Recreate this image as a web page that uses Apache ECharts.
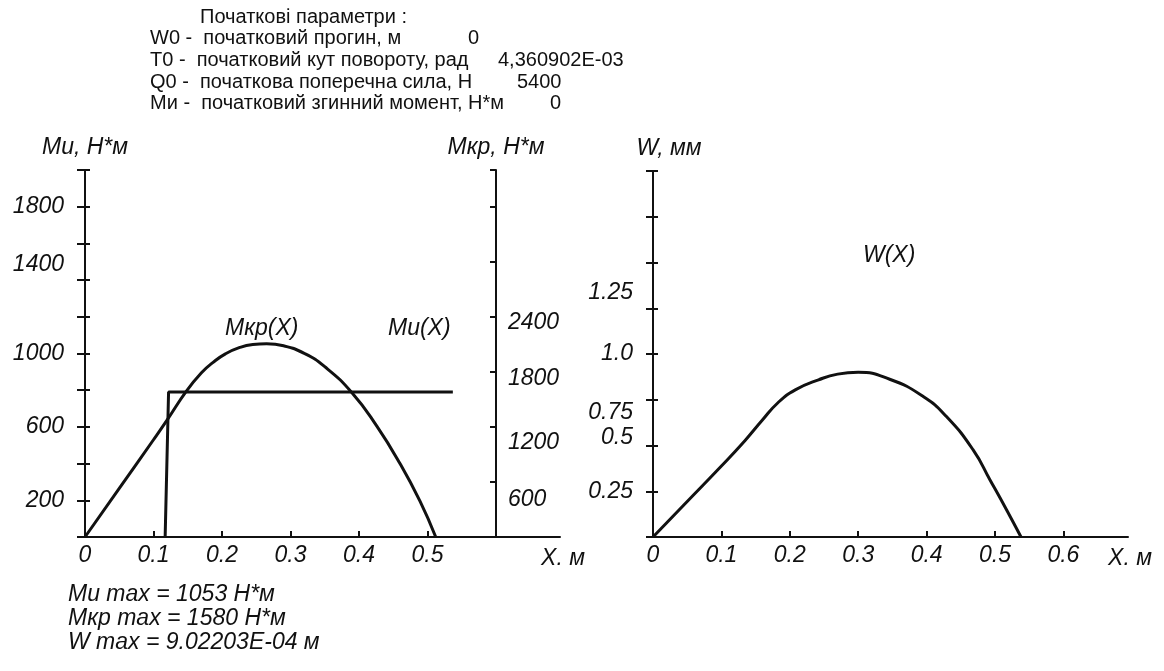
<!DOCTYPE html>
<html>
<head>
  <meta charset="utf-8">
  <script src="https://cdn.jsdelivr.net/npm/echarts@6/dist/echarts.min.js"></script>
  <style>html,body{margin:0;padding:0;background:#fff}</style>
</head>
<body>
<div id="main" style="width: 1164px; height: 671px"></div>
<script>
  // bending moment Mu(x), N*m (left axis)
  const muX = [0, 0.05, 0.1, 0.12, 0.148, 0.17, 0.187, 0.205, 0.226, 0.245, 0.265, 0.29, 0.32, 0.35, 0.39, 0.426, 0.46, 0.489, 0.512];
  const muY = [0, 265, 530, 638, 795, 895, 952, 998, 1033, 1049, 1053, 1042, 1001, 928, 785, 604, 399, 195, 0];
  // torque Mkp(x), N*m (right axis)
  const mkpX = [0.117, 0.122, 0.537];
  const mkpY = [0, 1580, 1580];
  // deflection W(x), mm
  const wX = [0, 0.05, 0.1, 0.134, 0.159, 0.183, 0.208, 0.242, 0.27, 0.3, 0.346, 0.395, 0.429, 0.468, 0.4927, 0.517, 0.538];
  const wY = [0, 0.194, 0.388, 0.525, 0.635, 0.735, 0.804, 0.859, 0.89, 0.9, 0.862, 0.768, 0.658, 0.476, 0.312, 0.148, 0];

  const xTicks = [0.1, 0.2, 0.3, 0.4, 0.5];
  const xLabelsLeft = [0, 0.1, 0.2, 0.3, 0.4, 0.5];
  const xTicksRight = [0.1, 0.2, 0.3, 0.4, 0.5, 0.6];
  const xLabelsRight = [0, 0.1, 0.2, 0.3, 0.4, 0.5, 0.6];
  const muLabels = [200, 600, 1000, 1400, 1800];
  const mkpLabels = [600, 1200, 1800, 2400];
  const wLabels = [0.25, 0.5, 0.75, 1.0, 1.25];

  // labels in the source sit a little off their ticks (px, + is down)
  const muShift = { 1400: -15 };
  const mkpShift = { 600: 18, 1200: 16, 1800: 7, 2400: 6 };
  const wShift = { 0.5: -8, 0.75: 13, 1.25: -16 };

  const header = [
    ['Початкові параметри :', 200, ''],
    ['W0 -  початковий прогин, м', 150, '0', 468],
    ['T0 -  початковий кут повороту, рад', 150, '4,360902E-03', 498],
    ['Q0 -  початкова поперечна сила, Н', 150, '5400', 517],
    ['Ми -  початковий згинний момент, Н*м', 150, '0', 550]
  ];
  const summary = ['Ми max = 1053 Н*м', 'Мкр max = 1580 Н*м', 'W max = 9.02203E-04 м'];

  const ink = '#111';
  const font = '"Liberation Sans", Arial, sans-serif';
  const fs = 23;
  const lab = { fontFamily: font, fontStyle: 'italic', fontSize: fs, color: ink };
  const zip = (xs, ys) => xs.map((x, i) => [x, ys[i]]);

  // build rich styles that nudge a label up or down
  function shifted(shifts) {
    const rich = {};
    Object.keys(shifts).forEach((k, i) => {
      const d = shifts[k];
      rich['s' + i] = Object.assign({}, lab, { padding: d > 0 ? [2 * d, 0, 0, 0] : [0, 0, -2 * d, 0] });
    });
    return rich;
  }
  function labelFmt(list, shifts, fmt) {
    const keys = Object.keys(shifts).map(Number);
    return v => {
      if (!list.includes(v)) return '';
      const txt = fmt ? fmt(v) : String(v);
      const i = keys.indexOf(v);
      return i >= 0 ? '{s' + i + '|' + txt + '}' : txt;
    };
  }

  const graphic = [];
  header.forEach((h, i) => {
    const y = 18 + i * 21.7;
    graphic.push({ type: 'text', left: h[1], top: y - 11, style: { text: h[0], font: '20px ' + font, fill: ink } });
    if (h[2]) graphic.push({ type: 'text', left: h[3], top: y - 11, style: { text: h[2], font: '20px ' + font, fill: ink } });
  });
  summary.forEach((s, i) => {
    graphic.push({ type: 'text', left: 68, top: 583 + i * 24, style: { text: s, font: 'italic ' + fs + 'px ' + font, fill: ink } });
  });
  graphic.push({ type: 'text', left: 225, top: 317, style: { text: 'Мкр(X)', font: 'italic ' + fs + 'px ' + font, fill: ink } });
  graphic.push({ type: 'text', left: 388, top: 317, style: { text: 'Ми(X)', font: 'italic ' + fs + 'px ' + font, fill: ink } });
  graphic.push({ type: 'text', left: 863, top: 244, style: { text: 'W(X)', font: 'italic ' + fs + 'px ' + font, fill: ink } });

  const line = { lineStyle: { color: ink, width: 2 } };
  const myChart = echarts.init(document.getElementById('main'));
  myChart.setOption({
    animation: false,
    graphic: graphic,
    grid: [
      { left: 85, top: 170, width: 475, height: 367 },
      { left: 85, top: 170, width: 411, height: 367 },
      { left: 653, top: 171, width: 475, height: 366 }
    ],
    xAxis: [
      {
        gridIndex: 0, type: 'value', min: 0, max: 0.6934,
        name: 'X. м', nameLocation: 'end', nameGap: 3,
        nameTextStyle: Object.assign({}, lab, { align: 'center', verticalAlign: 'top', padding: [10, 0, 0, 0] }),
        axisLine: Object.assign({ onZero: false }, line),
        axisTick: { inside: true, length: 6, lineStyle: { color: ink, width: 2 }, customValues: xTicks },
        axisLabel: Object.assign({}, lab, { margin: 7, customValues: xLabelsLeft, formatter: v => String(+v.toFixed(1)) }),
        splitLine: { show: false }
      },
      {
        gridIndex: 1, type: 'value', min: 0, max: 0.6, show: false
      },
      {
        gridIndex: 2, type: 'value', min: 0, max: 0.6944,
        name: 'X. м', nameLocation: 'end', nameGap: 2,
        nameTextStyle: Object.assign({}, lab, { align: 'center', verticalAlign: 'top', padding: [10, 0, 0, 0] }),
        axisLine: Object.assign({ onZero: false }, line),
        axisTick: { inside: true, length: 6, lineStyle: { color: ink, width: 2 }, customValues: xTicksRight },
        axisLabel: Object.assign({}, lab, { margin: 7, customValues: xLabelsRight, formatter: v => String(+v.toFixed(1)) }),
        splitLine: { show: false }
      }
    ],
    yAxis: [
      {
        gridIndex: 0, type: 'value', min: 0, max: 2000, interval: 200, position: 'left',
        name: 'Ми, Н*м', nameLocation: 'end', nameGap: 11,
        nameTextStyle: Object.assign({}, lab, { align: 'center', verticalAlign: 'bottom' }),
        axisLine: Object.assign({ show: true, onZero: false }, line),
        axisTick: { show: true, length: 8, lineStyle: { color: ink, width: 2 } },
        axisLabel: Object.assign({}, lab, { margin: 21, rich: shifted(muShift), formatter: labelFmt(muLabels, muShift) }),
        splitLine: { show: false }
      },
      {
        gridIndex: 0, type: 'value', min: 0, max: 2000, interval: 200, position: 'left',
        axisLine: { show: false },
        axisTick: { show: true, inside: true, length: 5, lineStyle: { color: ink, width: 2 } },
        axisLabel: { show: false }, splitLine: { show: false }
      },
      {
        gridIndex: 1, type: 'value', min: 0, max: 4000, interval: 600, position: 'right',
        name: 'Мкр, Н*м', nameLocation: 'end', nameGap: 11,
        nameTextStyle: Object.assign({}, lab, { align: 'center', verticalAlign: 'bottom' }),
        axisLine: Object.assign({ show: true, onZero: false }, line),
        axisTick: { show: true, inside: true, length: 6, lineStyle: { color: ink, width: 2 } },
        axisLabel: Object.assign({}, lab, { margin: 12, rich: shifted(mkpShift), formatter: labelFmt(mkpLabels, mkpShift) }),
        splitLine: { show: false }
      },
      {
        gridIndex: 2, type: 'value', min: 0, max: 2, interval: 0.25, position: 'left',
        name: 'W, мм', nameLocation: 'end', nameGap: 11,
        nameTextStyle: Object.assign({}, lab, { align: 'center', verticalAlign: 'bottom', padding: [0, 0, 0, 32] }),
        axisLine: Object.assign({ show: true, onZero: false }, line),
        axisTick: { show: true, length: 7, lineStyle: { color: ink, width: 2 } },
        axisLabel: Object.assign({}, lab, { margin: 20, rich: shifted(wShift), formatter: labelFmt(wLabels, wShift, v => v === 1 ? '1.0' : String(v)) }),
        splitLine: { show: false }
      },
      {
        gridIndex: 2, type: 'value', min: 0, max: 2, interval: 0.25, position: 'left',
        axisLine: { show: false },
        axisTick: { show: true, inside: true, length: 5, lineStyle: { color: ink, width: 2 } },
        axisLabel: { show: false }, splitLine: { show: false }
      }
    ],
    series: [
      {
        name: 'Ми(X)', type: 'line', xAxisIndex: 0, yAxisIndex: 0,
        data: zip(muX, muY), smooth: 0.5, showSymbol: false,
        lineStyle: { color: ink, width: 3 }
      },
      {
        name: 'Мкр(X)', type: 'line', xAxisIndex: 1, yAxisIndex: 2,
        data: zip(mkpX, mkpY), showSymbol: false,
        lineStyle: { color: ink, width: 3 }
      },
      {
        name: 'W(X)', type: 'line', xAxisIndex: 2, yAxisIndex: 3,
        data: zip(wX, wY), smooth: 0.5, showSymbol: false,
        lineStyle: { color: ink, width: 3 }
      }
    ]
  });
</script>
</body>
</html>
